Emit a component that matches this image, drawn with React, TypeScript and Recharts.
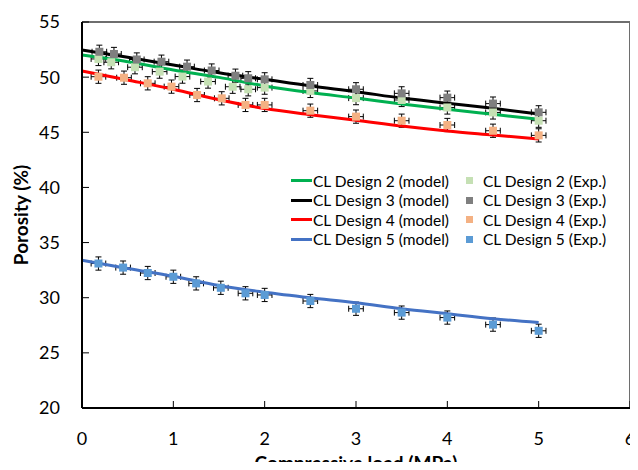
import { ComposedChart, ErrorBar, Label, Legend, Line, ReferenceLine, Scatter, XAxis, YAxis } from "recharts";

// model curves, all evaluated on the same load grid
const modelLoad = [0, 0.5, 1, 1.5, 2, 2.5, 3, 3.5, 4, 4.5, 5]
const model2 = [52.0, 51.4, 50.65, 49.98, 49.2, 48.6, 48.1, 47.57, 47.08, 46.63, 46.18]
const model3 = [52.46, 51.8, 51.1, 50.4, 49.8, 49.2, 48.68, 48.1, 47.63, 47.17, 46.66]
const model4 = [50.56, 49.74, 48.9, 47.95, 47.15, 46.6, 46.1, 45.57, 45.12, 44.76, 44.4]
const model5 = [33.4, 32.65, 31.95, 31.1, 30.5, 30.0, 29.55, 29.0, 28.55, 28.1, 27.75]

// experiments
const expLoad2 = [0.18, 0.32, 0.58, 0.85, 1.1, 1.38, 1.65, 1.82, 2.0, 2.5, 3.0, 3.5, 4.0, 4.5, 5.0]
const exp2 = [51.65, 51.35, 50.9, 50.5, 50.05, 49.6, 49.13, 48.9, 49.05, 48.75, 48.1, 47.93, 47.25, 46.8, 46.05]
const expLoad3 = [0.19, 0.35, 0.6, 0.87, 1.15, 1.42, 1.68, 1.82, 2.0, 2.5, 3.0, 3.5, 4.0, 4.5, 5.0]
const exp3 = [52.3, 52.1, 51.6, 51.4, 50.95, 50.6, 50.13, 49.9, 49.8, 49.29, 48.9, 48.53, 48.14, 47.6, 46.81]
const expLoad4 = [0.18, 0.46, 0.72, 0.98, 1.26, 1.53, 1.79, 2.0, 2.5, 3.0, 3.5, 4.0, 4.5, 5.0]
const exp4 = [50.04, 49.95, 49.44, 49.14, 48.38, 48.08, 47.48, 47.48, 46.96, 46.42, 46.05, 45.66, 45.14, 44.72]
const expLoad5 = [0.18, 0.45, 0.72, 1.0, 1.25, 1.52, 1.79, 2.0, 2.5, 3.0, 3.5, 4.0, 4.5, 5.0]
const exp5 = [33.1, 32.73, 32.24, 31.9, 31.3, 30.9, 30.4, 30.25, 29.7, 29.0, 28.65, 28.2, 27.56, 27.0]

const X_ERR = 0.08
const Y_ERR = 0.6

const modelNames = ['CL Design 2 (model)', 'CL Design 3 (model)', 'CL Design 4 (model)', 'CL Design 5 (model)']
const expNames = ['CL Design 2 (Exp.)', 'CL Design 3 (Exp.)', 'CL Design 4 (Exp.)', 'CL Design 5 (Exp.)']
const modelColors = ['#00B050', '#000000', '#FF0000', '#4472C4']
const expColors = ['#C5E0B4', '#7F7F7F', '#F4B183', '#5B9BD5']

const xTicks = [0, 1, 2, 3, 4, 5, 6]
const yTicks = [20, 25, 30, 35, 40, 45, 50, 55]

const FONT = 'Lato, "Open Sans", sans-serif'

const models = [model2, model3, model4, model5].map(vals =>
    modelLoad.map((x, i) => ({ x, y: vals[i] }))
)
const exps = [[expLoad2, exp2], [expLoad3, exp3], [expLoad4, exp4], [expLoad5, exp5]].map(([xs, ys]) =>
    xs.map((x, i) => ({ x, y: ys[i], ex: X_ERR, ey: Y_ERR }))
)

const square = (color: string) => (props: any) => (
    <rect x={props.cx - 4} y={props.cy - 4} width={8} height={8} fill={color} />
)

const renderLegend = () => (
    <div style={{ position: 'relative', width: 340, height: 80, fontFamily: FONT, fontSize: 15.5, color: '#000' }}>
        {modelNames.map((name, i) => (
            <div key={name} style={{ position: 'absolute', left: 0, top: i * 19.5, height: 19.5, display: 'flex', alignItems: 'center', whiteSpace: 'nowrap' }}>
                <span style={{ width: 21, height: 3, background: modelColors[i], display: 'inline-block' }} />
                <span style={{ marginLeft: 1 }}>{name}</span>
            </div>
        ))}
        {expNames.map((name, i) => (
            <div key={name} style={{ position: 'absolute', left: 175, top: i * 19.5, height: 19.5, display: 'flex', alignItems: 'center', whiteSpace: 'nowrap' }}>
                <span style={{ width: 7, height: 7, background: expColors[i], display: 'inline-block' }} />
                <span style={{ marginLeft: 10 }}>{name}</span>
            </div>
        ))}
    </div>
)

export default function App() {
    // the negative margin cancels the body margin so the chart fills the window exactly
    return (
        <div style={{ margin: -8, width: 638, height: 470, overflow: 'hidden' }}>
            <ComposedChart width={638} height={470} margin={{ top: 22, right: 8, bottom: 0, left: 0 }}>
                {/* plot frame: top and right edges */}
                <ReferenceLine y={55} stroke="#6E6E6E" strokeWidth={2} ifOverflow="visible" />
                <ReferenceLine x={6} stroke="#6E6E6E" strokeWidth={2} ifOverflow="visible" />
                <XAxis
                    type="number"
                    dataKey="x"
                    domain={[0, 6]}
                    ticks={xTicks}
                    axisLine={{ stroke: '#000', strokeWidth: 2 }}
                    tickLine={{ stroke: '#000' }}
                    tickSize={-7}
                    tickMargin={31}
                    height={62}
                    tick={{ fill: '#000', fontSize: 18, fontFamily: FONT }}
                >
                    <Label
                        content={() => (
                            <text x={356} y={470} textAnchor="middle" fontFamily={FONT} fontWeight="bold" fontSize={19} fill="#000">
                                Compressive load (MPa)
                            </text>
                        )}
                    />
                </XAxis>
                <YAxis
                    type="number"
                    dataKey="y"
                    domain={[20, 55]}
                    ticks={yTicks}
                    axisLine={{ stroke: '#000', strokeWidth: 2 }}
                    tickLine={{ stroke: '#000' }}
                    tickSize={-7}
                    tickMargin={29}
                    width={82}
                    tick={{ fill: '#000', fontSize: 18, fontFamily: FONT }}
                >
                    <Label
                        content={() => (
                            <text x={28} y={215} transform="rotate(-90 28 215)" textAnchor="middle" fontFamily={FONT} fontWeight="bold" fontSize={19} fill="#000">
                                Porosity (%)
                            </text>
                        )}
                    />
                </YAxis>
                {exps.map((data, i) => (
                    <Scatter key={expNames[i]} name={expNames[i]} data={data} fill={expColors[i]} shape={square(expColors[i])} isAnimationActive={false}>
                        <ErrorBar dataKey="ey" direction="y" width={3} stroke="#000" strokeWidth={1} />
                        <ErrorBar dataKey="ex" direction="x" width={3} stroke="#000" strokeWidth={1} />
                    </Scatter>
                ))}
                {models.map((data, i) => (
                    <Line
                        key={modelNames[i]}
                        name={modelNames[i]}
                        data={data}
                        dataKey="y"
                        type="monotone"
                        stroke={modelColors[i]}
                        strokeWidth={3}
                        dot={false}
                        activeDot={false}
                        isAnimationActive={false}
                    />
                ))}
                <Legend
                    layout="vertical"
                    align="center"
                    verticalAlign="middle"
                    content={renderLegend}
                    wrapperStyle={{ left: 291, top: 171, width: 340 }}
                />
            </ComposedChart>
        </div>
    )
}
